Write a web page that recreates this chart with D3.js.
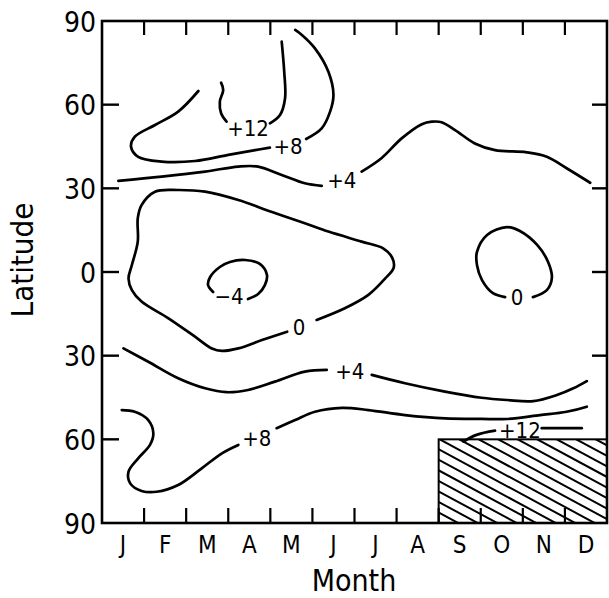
<!DOCTYPE html>
<html>
<head>
<meta charset="utf-8">
<script src="https://cdn.jsdelivr.net/npm/d3@7"></script>
<style>
  html, body { margin: 0; padding: 0; background: #fff; }
  text { font-family: "DejaVu Sans Condensed", "DejaVu Sans", sans-serif; font-stretch: condensed; fill: #000; }
</style>
</head>
<body>
<script>
// month letters, one per month, and the latitude ticks (north positive)
const months = ["J", "F", "M", "A", "M", "J", "J", "A", "S", "O", "N", "D"];
const latTicks = [90, 60, 30, 0, -30, -60, -90];

// contour lines as [month, latitude] pairs
// a line is broken where its label sits
const north8 = [[2.29, 64.9], [1.81, 57.5], [1.26, 52.7], [0.78, 48.5], [0.69, 44.9], [0.86, 41.3],
  [1.42, 39.6], [2.21, 39.8], [3.00, 42.0], [3.64, 43.7], [3.99, 44.6]];
const north8b = [[4.85, 47.7], [5.22, 51.5], [5.42, 57.5], [5.50, 63.5], [5.38, 71.8],
  [5.06, 80.2], [4.75, 85.0], [4.59, 86.8]];
const north12 = [[2.83, 67.9], [2.88, 65.3], [2.80, 61.1], [2.83, 56.9], [2.96, 53.9]];
const north12b = [[3.99, 53.3], [4.23, 56.3], [4.35, 62.3], [4.33, 71.8], [4.27, 82.6]];
const north4 = [[0.39, 32.7], [1.42, 34.2], [2.45, 36.0], [3.24, 37.8], [3.71, 37.8], [4.27, 34.8],
  [4.82, 31.8], [5.22, 30.9]];
const north4b = [[6.17, 36.0], [6.64, 40.8], [7.12, 47.9], [7.60, 53.0], [7.84, 53.9], [8.07, 53.7],
  [8.39, 50.9], [8.86, 46.1], [9.34, 43.7], [10.09, 42.9], [10.57, 41.3], [11.04, 37.2], [11.60, 32.0]];
const zeroWest = [[5.10, -17.2], [5.77, -13.0], [6.33, -8.2], [6.73, -2.3], [6.93, 1.5], [6.90, 5.0],
  [6.68, 8.5], [6.17, 10.9], [5.38, 14.5], [4.82, 17.5], [4.04, 21.5], [3.24, 25.8], [2.45, 28.8],
  [1.81, 29.4], [1.26, 28.8], [0.94, 24.0], [0.85, 19.3], [0.85, 10.9], [0.71, 2.5], [0.63, -2.3],
  [0.71, -6.5], [0.94, -10.6], [1.58, -16.6], [2.21, -23.2], [2.61, -27.4], [2.85, -28.3],
  [3.24, -27.4], [3.80, -24.4], [4.40, -21.4]];
const minus4 = [[3.47, -9.7], [3.71, -7.9], [3.87, -4.7], [3.92, -1.1], [3.75, 2.9], [3.40, 4.3],
  [3.04, 3.6], [2.80, 1.8], [2.57, -1.8], [2.52, -4.7], [2.64, -7.2]];
const zeroEast = [[10.24, -9.0], [10.57, -6.5], [10.69, -2.1], [10.60, 3.6], [10.34, 9.7], [9.93, 14.7],
  [9.62, 16.1], [9.15, 13.3], [8.91, 7.2], [8.91, 2.5], [9.03, -2.9], [9.29, -7.6], [9.58, -9.0]];
const south4 = [[0.51, -27.4], [1.10, -32.2], [1.81, -38.1], [2.45, -41.7], [2.96, -43.1], [3.47, -42.3],
  [4.11, -39.3], [4.82, -35.7], [5.34, -35.1]];
const south4b = [[6.41, -36.9], [7.20, -39.9], [8.15, -42.9], [9.02, -45.1], [9.62, -45.9],
  [10.25, -46.3], [10.81, -44.1], [11.20, -41.7], [11.52, -39.1]];
const south8 = [[0.47, -49.5], [0.78, -50.1], [1.10, -53.1], [1.22, -57.8], [1.14, -62.0], [0.86, -66.8],
  [0.63, -71.6], [0.67, -75.8], [0.94, -78.5], [1.30, -78.8], [1.81, -76.4], [2.37, -70.4],
  [2.85, -65.0], [3.24, -62.0]];
const south8b = [[4.15, -56.0], [4.59, -53.1], [5.06, -50.1], [5.70, -48.7], [6.33, -49.5], [7.20, -51.3],
  [8.15, -52.5], [9.02, -52.7], [9.62, -52.7], [10.41, -51.3], [11.04, -50.1], [11.52, -48.3]];
const south12 = [[8.59, -60.8], [8.90, -58.4], [9.34, -56.9]];
const south12b = [[10.45, -56.0], [11.40, -56.0]];

const contours = [north8, north8b, north12, north12b, north4, north4b, zeroWest, minus4,
  zeroEast, south4, south4b, south8, south8b, south12, south12b];

// contour labels: text, month, latitude
const labelText = ["+12", "+8", "+4", "0", "\u22124", "0", "+4", "+8", "+12"];
const labelMonth = [3.47, 4.42, 5.70, 4.68, 3.02, 9.86, 5.89, 3.68, 9.93];
const labelLat = [51.6, 45.2, 33.0, -19.6, -8.6, -9.0, -35.5, -59.5, -56.6];

// hatched area without data: Sep to Dec, 60S to 90S
const noData = {m0: 8, m1: 12, lat0: -60, lat1: -90};

const width = 609, height = 598;
const margin = {left: 102, right: 2, top: 21, bottom: 75};

const svg = d3.select("body").append("svg")
  .attr("width", width)
  .attr("height", height);

const x = d3.scaleLinear().domain([0, 12]).range([margin.left, width - margin.right]);
const y = d3.scaleLinear().domain([90, -90]).range([margin.top, height - margin.bottom]);

// hatch box
const clip = svg.append("clipPath").attr("id", "nodata");
clip.append("rect")
  .attr("x", x(noData.m0)).attr("y", y(noData.lat0))
  .attr("width", x(noData.m1) - x(noData.m0))
  .attr("height", y(noData.lat1) - y(noData.lat0));

const hatch = svg.append("g").attr("clip-path", "url(#nodata)");
const hx0 = x(noData.m0), hx1 = x(noData.m1), hy0 = y(noData.lat0), hy1 = y(noData.lat1);
const slope = 0.54, step = 19.5;
for (let s = hx0 - (hy1 - hy0) / slope - step; s < hx1 + step; s += step) {
  hatch.append("line")
    .attr("x1", s).attr("y1", hy0)
    .attr("x2", s + 300).attr("y2", hy0 + 300 * slope)
    .attr("stroke", "#000").attr("stroke-width", 2);
}
svg.append("rect")
  .attr("x", hx0).attr("y", hy0)
  .attr("width", hx1 - hx0).attr("height", hy1 - hy0)
  .attr("fill", "none").attr("stroke", "#000").attr("stroke-width", 2);

// contours
const line = d3.line()
  .x(d => x(d[0]))
  .y(d => y(d[1]))
  .curve(d3.curveCatmullRom.alpha(0.5));

svg.append("g").selectAll("path")
  .data(contours)
  .enter().append("path")
  .attr("d", line)
  .attr("fill", "none")
  .attr("stroke", "#000")
  .attr("stroke-width", 2.7)
  .attr("stroke-linecap", "round");

svg.append("g").selectAll("text")
  .data(labelText)
  .enter().append("text")
  .attr("x", (d, i) => x(labelMonth[i]))
  .attr("y", (d, i) => y(labelLat[i]))
  .attr("dy", "0.36em")
  .attr("text-anchor", "middle")
  .style("font-size", "22px")
  .text(d => d);

// frame
svg.append("rect")
  .attr("x", x(0)).attr("y", y(90))
  .attr("width", x(12) - x(0)).attr("height", y(-90) - y(90))
  .attr("fill", "none").attr("stroke", "#000").attr("stroke-width", 2.6);

// latitude axis, ticks point inward
const yAxis = d3.axisLeft(y)
  .tickValues(latTicks)
  .tickSize(0)
  .tickPadding(6)
  .tickFormat(d => Math.abs(d));
const gy = svg.append("g").attr("transform", `translate(${x(0)},0)`).call(yAxis);
gy.select(".domain").remove();
gy.selectAll("text").style("font-size", "28px").attr("dy", "0.36em");

const innerLat = latTicks.filter(d => Math.abs(d) < 90);
svg.append("g").selectAll("line")
  .data(innerLat)
  .enter().append("line")
  .attr("x1", x(0)).attr("x2", x(0) + 17)
  .attr("y1", d => y(d)).attr("y2", d => y(d))
  .attr("stroke", "#000").attr("stroke-width", 2.4);
svg.append("g").selectAll("line")
  .data(innerLat.filter(d => d > noData.lat0))
  .enter().append("line")
  .attr("x1", x(12)).attr("x2", x(12) - 15)
  .attr("y1", d => y(d)).attr("y2", d => y(d))
  .attr("stroke", "#000").attr("stroke-width", 2.4);

// month axis: ticks on month boundaries, letters in the middle
const bounds = d3.range(1, 12);
svg.append("g").selectAll("line")
  .data(bounds)
  .enter().append("line")
  .attr("x1", d => x(d)).attr("x2", d => x(d))
  .attr("y1", y(90)).attr("y2", y(90) + 14)
  .attr("stroke", "#000").attr("stroke-width", 2.2);
svg.append("g").selectAll("line")
  .data(bounds)
  .enter().append("line")
  .attr("x1", d => x(d)).attr("x2", d => x(d))
  .attr("y1", y(-90)).attr("y2", y(-90) - 15)
  .attr("stroke", "#000").attr("stroke-width", 2.2);

svg.append("g").selectAll("text")
  .data(months)
  .enter().append("text")
  .attr("x", (d, i) => x(i + 0.5))
  .attr("y", y(-90) + 30)
  .attr("text-anchor", "middle")
  .style("font-size", "24px")
  .text(d => d);

// axis titles
svg.append("text")
  .attr("x", 354).attr("y", 591)
  .attr("text-anchor", "middle")
  .style("font-size", "30px")
  .text("Month");

svg.append("text")
  .attr("transform", "translate(33,260) rotate(-90)")
  .attr("text-anchor", "middle")
  .style("font-size", "31px")
  .text("Latitude");
</script>
</body>
</html>
